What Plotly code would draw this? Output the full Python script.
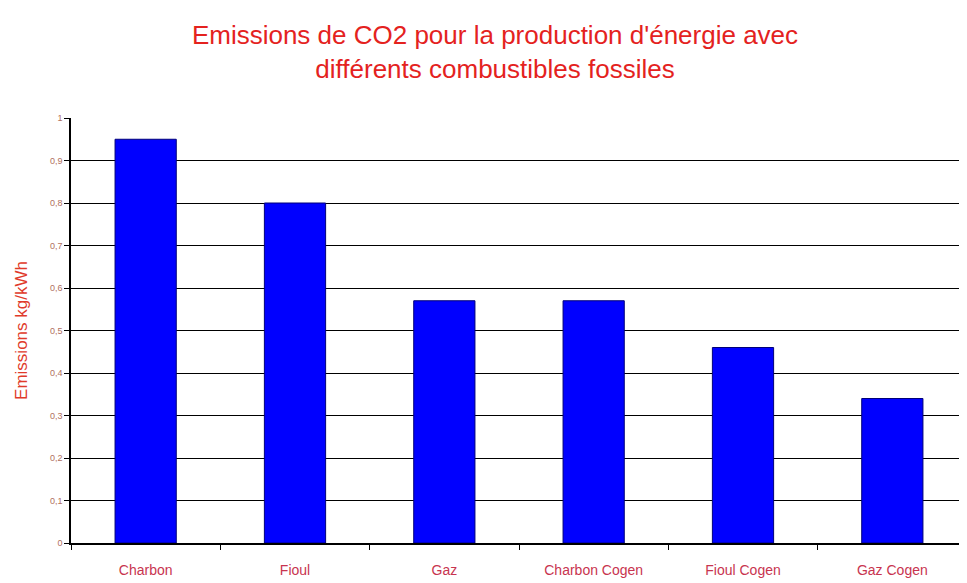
import plotly.graph_objects as go

categories = ["Charbon", "Fioul", "Gaz", "Charbon Cogen", "Fioul Cogen", "Gaz Cogen"]
emissions = [0.95, 0.80, 0.57, 0.57, 0.46, 0.34]
y_ticks = [0, 0.1, 0.2, 0.3, 0.4, 0.5, 0.6, 0.7, 0.8, 0.9, 1]
y_tick_labels = ["0", "0,1", "0,2", "0,3", "0,4", "0,5", "0,6", "0,7", "0,8", "0,9", "1"]
grid_ticks = [0.1, 0.2, 0.3, 0.4, 0.5, 0.6, 0.7, 0.8, 0.9]

fig = go.Figure()
fig.add_trace(go.Bar(
    x=categories, y=emissions,
    marker=dict(color="#0000ff", line=dict(color="#00007a", width=1)),
    width=0.41, hoverinfo="x+y",
))
# invisible trace on overlay axis to carry gridlines
fig.add_trace(go.Scatter(x=categories, y=emissions, yaxis="y2", mode="none",
                         showlegend=False, hoverinfo="skip"))

# page body has an 8px default margin, so the figure is sized/offset to compensate
fig.update_layout(
    width=959, height=575,
    margin=dict(l=63, r=0, t=110, b=40),
    paper_bgcolor="white", plot_bgcolor="white",
    showlegend=False,
    font=dict(family="Liberation Sans, Arial, sans-serif"),
    title=dict(
        text="Emissions de CO2 pour la production d'énergie avec<br>différents combustibles fossiles",
        x=487/959, xanchor="center", xref="container",
        y=0.937, yanchor="middle",
        font=dict(size=26, color="#e4221e", family="Liberation Sans, Arial, sans-serif"),
    ),
    xaxis=dict(
        type="category", tickson="boundaries", ticks="outside", ticklen=5,
        tickcolor="black", showline=True, linecolor="black", linewidth=1.5,
        showgrid=False, tickfont=dict(size=14, color="#c8344f"),
        ticklabelstandoff=13,
        range=[-0.5, 5.5], automargin=False,
    ),
    yaxis=dict(
        range=[0, 1], tickvals=y_ticks, ticktext=y_tick_labels,
        ticks="outside", ticklen=5,
        tickcolor="black", showline=True, linecolor="black", linewidth=1.5,
        showgrid=False, zeroline=False, automargin=False,
        tickfont=dict(size=9, color="#b07060"),
        title=dict(text="Emissions kg/kWh", font=dict(size=17, color="#e03a2a"), standoff=18),
    ),
    yaxis2=dict(
        range=[0, 1], tickvals=grid_ticks, overlaying="y", side="left",
        showgrid=True, gridcolor="black", gridwidth=1, showticklabels=False,
        ticks="", zeroline=False, showline=False, automargin=False,
    ),
)
fig.write_html("out.html")
